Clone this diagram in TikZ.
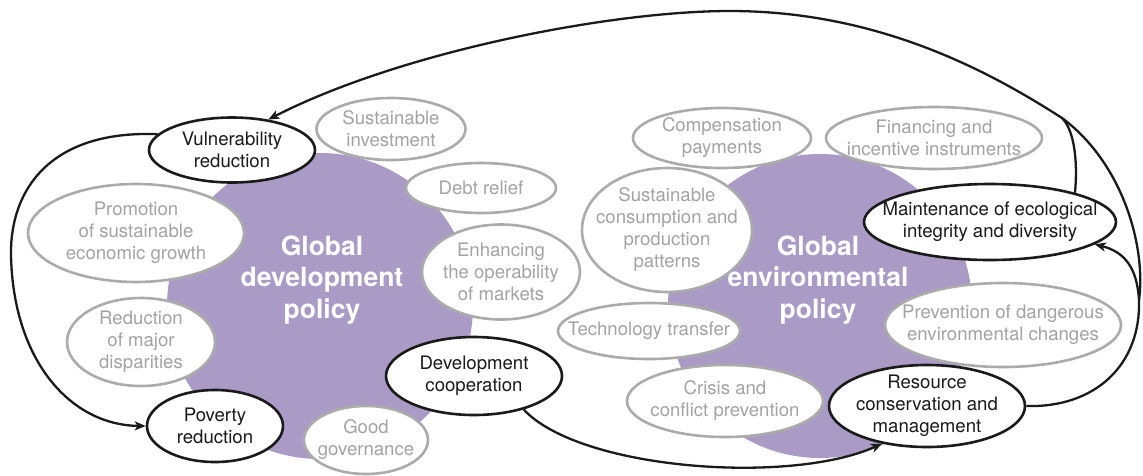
\documentclass[tikz,border=0pt]{standalone}
\usepackage{fontspec}
\setmainfont{TeX Gyre Heros}
\usetikzlibrary{shapes.geometric,arrows.meta}
\definecolor{purp}{HTML}{AA9BC6}
\definecolor{lgray}{HTML}{ABABAB}
\definecolor{tgray}{HTML}{A3A3A3}
\definecolor{ink}{HTML}{1A1A1A}
\tikzset{
  oval/.style={ellipse, inner sep=0pt, fill=white, line width=2.6pt},
  gov/.style={oval, draw=lgray},
  bov/.style={oval, draw=ink},
  gtxt/.style={text=tgray, align=center, inner sep=0pt, font=\fontsize{18.6}{22}\selectfont},
  btxt/.style={text=ink, align=center, inner sep=0pt, font=\fontsize{18.6}{22}\selectfont},
  ttl/.style={text=white, align=center, inner sep=0pt, font=\fontsize{26.5}{31.5}\selectfont\bfseries},
  arr/.style={draw=ink, line width=2.3pt, -{Stealth[length=11pt,width=9pt,inset=3pt]}},
  con/.style={draw=ink, line width=2.3pt}
}
\begin{document}
\begin{tikzpicture}[x=1pt,y=-1pt]
\useasboundingbox (0,0) rectangle (1143,475);
% purple discs
\fill[purp] (320,306) circle [radius=153];
\fill[purp] (820,306) circle [radius=152];
% left side
\node[bov, minimum width=166pt, minimum height=65pt, label={[btxt]center:Vulnerability\\reduction}] (vul) at (232,150) {};
\node[gov, minimum width=149pt, minimum height=62pt, label={[gtxt]center:Sustainable\\investment}] (sinv) at (391,129) {};
\node[gov, minimum width=150pt, minimum height=50pt, label={[gtxt]center:Debt relief}] (debt) at (481,188) {};
\node[gov, minimum width=216pt, minimum height=98pt, label={[gtxt]center:Promotion\\of sustainable\\economic growth}] (prom) at (136,233) {};
\node[gov, minimum width=158pt, minimum height=95pt, label={[gtxt]center:Enhancing\\the operability\\of markets}] (enh) at (501,272) {};
\node[gov, minimum width=148pt, minimum height=88pt, label={[gtxt]center:Reduction\\of major\\disparities}] (red) at (141,342) {};
\node[bov, minimum width=136pt, minimum height=72pt, label={[btxt]center:Poverty\\reduction}] (pov) at (215,426) {};
\node[gov, minimum width=124pt, minimum height=68pt, label={[gtxt]center:Good\\governance}] (gg) at (366,440) {};
\node[bov, minimum width=176pt, minimum height=78pt, label={[btxt]center:Development\\cooperation}] (dev) at (474,376) {};
\node[ttl] (gdp) at (322,280) {Global\\development\\policy};
% right side
\node[gov, minimum width=178pt, minimum height=60pt, label={[gtxt]center:Compensation\\payments}] (comp) at (722,138) {};
\node[gov, minimum width=216pt, minimum height=62pt, label={[gtxt]center:Financing and\\incentive instruments}] (fin) at (934,138) {};
\node[gov, minimum width=170pt, minimum height=124pt, label={[gtxt]center:Sustainable\\consumption and\\production\\patterns}] (scp) at (667,230) {};
\node[bov, minimum width=252pt, minimum height=76pt, label={[btxt]center:Maintenance of ecological\\integrity and diversity}] (mai) at (990,222) {};
\node[gov, minimum width=182pt, minimum height=56pt, label={[gtxt]center:Technology transfer}] (tech) at (649,331) {};
\node[gov, minimum width=236pt, minimum height=84pt, label={[gtxt]center:Prevention of dangerous\\environmental changes}] (prev) at (1003,325) {};
\node[gov, minimum width=196pt, minimum height=72pt, label={[gtxt]center:Crisis and\\conflict prevention}] (cris) at (725,401) {};
\node[bov, minimum width=196pt, minimum height=82pt, label={[btxt]center:Resource\\conservation and\\management}] (res) at (927,406) {};
\node[ttl] (gep) at (818,280) {Global\\environmental\\policy};
% junctions
\coordinate (j1) at (1139,300);
\coordinate (j2) at (1062,118);
% connectors
\draw[arr] (vul.168) .. controls (50,130) and (10,190) .. (11,255) .. controls (13,360) and (70,425) .. (pov.west);
\draw[arr] (dev.-34) .. controls (580,470) and (790,485) .. (res.-140);
\draw[con] (res.east) .. controls (1095,408) and (1141,365) .. (j1);
\draw[arr] (j1) .. controls (1137,268) and (1125,252) .. (mai.-12);
\draw[con] (mai.19) .. controls (1078,160) and (1074,130) .. (j2);
\draw[arr] (j1) .. controls (1146,250) and (1125,165) .. (j2) .. controls (992,73) and (880,11) .. (730,11) .. controls (610,11) and (400,52) .. (vul.40);
\end{tikzpicture}
\end{document}
